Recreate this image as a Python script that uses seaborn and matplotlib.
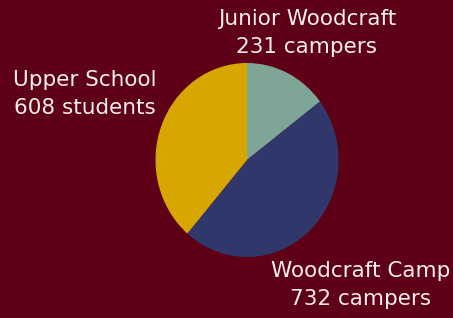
import matplotlib
matplotlib.use("Agg")
import matplotlib.pyplot as plt
import seaborn as sns

categories = ["Junior Woodcraft", "Woodcraft Camp", "Upper School"]
values = [231, 732, 608]
units = ["campers", "campers", "students"]

sns.set_theme(style="white")
plt.rcParams['font.family'] = ['DejaVu Sans']

bg = "#5e0016"
colors = sns.color_palette(["#7fa597", "#2f376b", "#d8a600"])

W, H = 453, 318
rx, ry = 91.5, 97.0
sx = ry / rx  # horizontal stretch of data units so the pie is slightly tall

fig = plt.figure(figsize=(4.53, 3.18), dpi=100, facecolor=bg)
ax = fig.add_axes([0, 0, 1, 1])
ax.set_facecolor(bg)

ax.pie(values, colors=colors, startangle=90, counterclock=False,
       center=(247 * sx, H - 160), radius=ry, frame=True,
       wedgeprops=dict(linewidth=0))
ax.set_xlim(0, W * sx)
ax.set_ylim(0, H)
ax.set_aspect("auto")
ax.axis("off")

label_pos = [(307, 33), (361, 285), (85, 94)]  # pixel centres from top-left
for cat, v, u, (x, y) in zip(categories, values, units, label_pos):
    ax.text(x / W, 1 - y / H, f"{cat}\n{v} {u}", ha="center", va="center",
            transform=ax.transAxes,
            color="#f4eded", fontsize=15.5, linespacing=1.5)

fig.savefig("out.png", dpi=100, facecolor=bg)
